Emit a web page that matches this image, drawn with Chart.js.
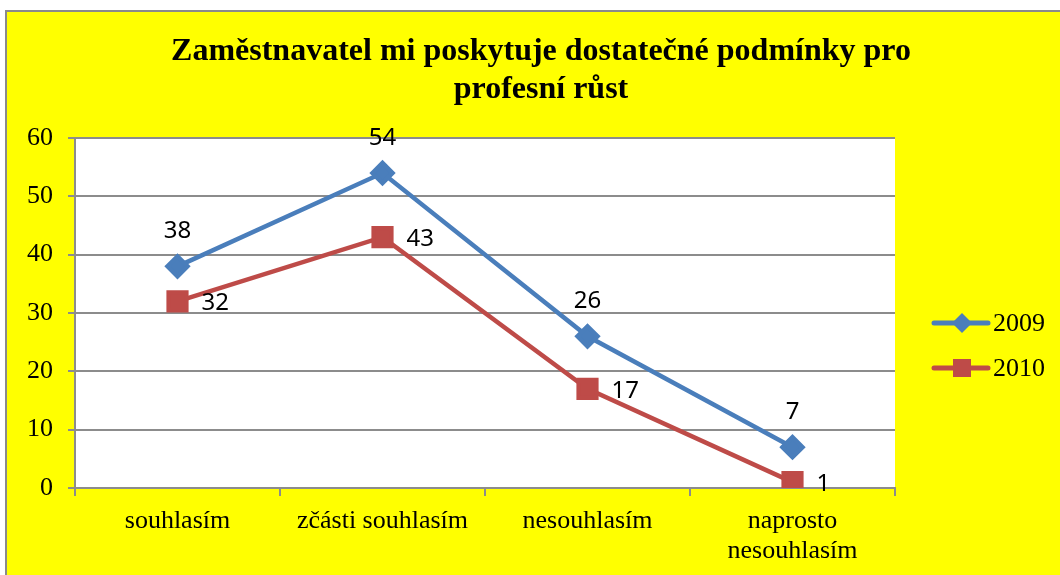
<!DOCTYPE html>
<html>
<head>
<meta charset="utf-8">
<script src="https://cdn.jsdelivr.net/npm/chart.js@4"></script>
<style>
  html, body { margin: 0; padding: 0; background: #fff; }
  #wrap { width: 1060px; height: 575px; }
</style>
</head>
<body>
<div id="wrap"><canvas id="chart" width="1060" height="575"></canvas></div>
<script>
const CATEGORIES = ['souhlasím', 'zčásti souhlasím', 'nesouhlasím', ['naprosto', 'nesouhlasím']];
const VALUES_2009 = [38, 54, 26, 7];
const VALUES_2010 = [32, 43, 17, 1];
const Y_TICKS = [0, 10, 20, 30, 40, 50, 60];
const TITLE_LINES = ['Zaměstnavatel mi poskytuje dostatečné podmínky pro', 'profesní růst'];

const BLUE = '#4A7EBB';
const RED = '#BE4B48';
const GRID = '#8c8c8c';
const SERIF = "'Liberation Serif', 'Times New Roman', serif";
const SANS = "'Noto Sans', 'Open Sans', sans-serif";

// yellow frame, title and white plot area
const frame = {
  id: 'frame',
  beforeDraw(chart) {
    const { ctx, chartArea: a } = chart;
    ctx.save();
    ctx.fillStyle = '#ffffff';
    ctx.fillRect(0, 0, chart.width, chart.height);
    ctx.fillStyle = '#FFFF00';
    ctx.fillRect(6, 11, chart.width, chart.height);
    ctx.strokeStyle = '#8a8a8a';
    ctx.lineWidth = 2;
    ctx.beginPath();
    ctx.moveTo(6, chart.height + 5);
    ctx.lineTo(6, 11);
    ctx.lineTo(chart.width + 5, 11);
    ctx.stroke();
    ctx.fillStyle = '#ffffff';
    ctx.fillRect(a.left, a.top, a.right - a.left, a.bottom - a.top);

    ctx.fillStyle = '#000';
    ctx.font = `bold 32px ${SERIF}`;
    ctx.textAlign = 'center';
    ctx.textBaseline = 'middle';
    TITLE_LINES.forEach((t, i) => ctx.fillText(t, 541, 52 + i * 38));
    ctx.restore();
  },
};

// value labels: 2009 above the point, 2010 to the right
const valueLabels = {
  id: 'valueLabels',
  afterDatasetsDraw(chart) {
    const { ctx } = chart;
    ctx.save();
    ctx.font = `24px ${SANS}`;
    ctx.fillStyle = '#000';
    ctx.textBaseline = 'middle';
    chart.data.datasets.forEach((ds, i) => {
      const meta = chart.getDatasetMeta(i);
      meta.data.forEach((pt, j) => {
        const v = ds.data[j];
        if (i === 0) {
          ctx.textAlign = 'center';
          ctx.fillText(String(v), pt.x, pt.y - 35);
        } else {
          ctx.textAlign = 'left';
          ctx.fillText(String(v), pt.x + 24, pt.y + 2);
        }
      });
    });
    ctx.restore();
  },
};

// legend: line with marker + series name
const sideLegend = {
  id: 'sideLegend',
  afterDraw(chart) {
    const { ctx, chartArea: a } = chart;
    const x0 = a.right + 39;
    ctx.save();
    chart.data.datasets.forEach((ds, i) => {
      const y = 323 + i * 45;
      ctx.strokeStyle = ds.borderColor;
      ctx.lineWidth = 5;
      ctx.lineCap = 'round';
      ctx.beginPath();
      ctx.moveTo(x0, y);
      ctx.lineTo(x0 + 54, y);
      ctx.stroke();
      ctx.fillStyle = ds.pointBackgroundColor;
      const cx = x0 + 28;
      if (ds.pointStyle === 'rectRot') {
        ctx.beginPath();
        ctx.moveTo(cx, y - 10);
        ctx.lineTo(cx + 10, y);
        ctx.lineTo(cx, y + 10);
        ctx.lineTo(cx - 10, y);
        ctx.closePath();
        ctx.fill();
      } else {
        ctx.fillRect(cx - 9, y - 9, 18, 18);
      }
      ctx.fillStyle = '#000';
      ctx.font = `26px ${SERIF}`;
      ctx.textAlign = 'left';
      ctx.textBaseline = 'middle';
      ctx.fillText(ds.label, x0 + 59, y + 1);
    });
    ctx.restore();
  },
};

new Chart(document.getElementById('chart'), {
  type: 'line',
  data: {
    labels: CATEGORIES,
    datasets: [
      {
        label: '2009',
        data: VALUES_2009,
        borderColor: BLUE,
        backgroundColor: BLUE,
        pointBackgroundColor: BLUE,
        pointBorderColor: BLUE,
        pointStyle: 'rectRot',
        pointRadius: 10,
        borderWidth: 4.5,
        tension: 0,
      },
      {
        label: '2010',
        data: VALUES_2010,
        borderColor: RED,
        backgroundColor: RED,
        pointBackgroundColor: RED,
        pointBorderColor: RED,
        pointStyle: 'rect',
        pointRadius: 12.5,
        borderWidth: 4.5,
        tension: 0,
      },
    ],
  },
  options: {
    responsive: false,
    animation: false,
    devicePixelRatio: 1,
    layout: { padding: { left: 14, right: 165, top: 138, bottom: 0 } },
    scales: {
      x: {
        offset: true,
        afterFit(scale) { scale.height = 87; },
        grid: {
          offset: true,
          drawOnChartArea: false,
          drawTicks: true,
          tickLength: 8,
          color: GRID,
          lineWidth: 2,
        },
        border: { color: GRID, width: 2 },
        ticks: {
          color: '#000',
          font: { family: SERIF, size: 26, lineHeight: 1.12 },
          padding: 11,
          maxRotation: 0,
          autoSkip: false,
        },
      },
      y: {
        min: Y_TICKS[0],
        max: Y_TICKS[Y_TICKS.length - 1],
        afterBuildTicks(scale) {
          scale.ticks = Y_TICKS.map((v) => ({ value: v }));
        },
        afterFit(scale) { scale.width = 61; },
        grid: { color: GRID, lineWidth: 2, tickLength: 7 },
        border: { color: GRID, width: 2 },
        ticks: {
          color: '#000',
          font: { family: SERIF, size: 26 },
          padding: 15,
        },
      },
    },
    plugins: {
      legend: { display: false },
      tooltip: { enabled: false },
      title: { display: false },
    },
  },
  plugins: [frame, valueLabels, sideLegend],
});
</script>
</body>
</html>
